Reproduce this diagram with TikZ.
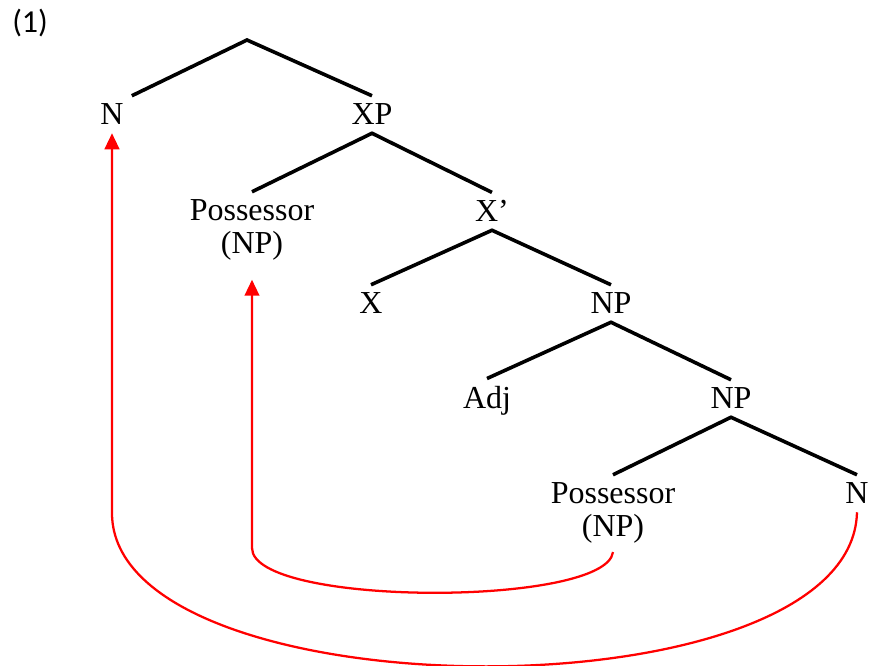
\documentclass[tikz,border=0pt]{standalone}
\usepackage{fontspec}
\setmainfont{Liberation Serif}
\newfontfamily\exfont{Carlito}
\usetikzlibrary{arrows.meta,positioning}

\begin{document}
\begin{tikzpicture}[x=0.75pt, y=-0.75pt,
  cat/.style={font=\fontsize{24}{24.75}\selectfont, align=center, inner sep=6pt, anchor=base},
  branch/.style={line width=2.7pt},
  move/.style={red, line width=1.7pt, -{Triangle[length=12pt,width=11pt]}}]
  \useasboundingbox (0,0) rectangle (869,666);
  \node[anchor=base west, inner sep=0pt, font=\exfont\fontsize{24}{26}\selectfont] (ex) at (12,33) {(1)};
  \coordinate (top) at (247,40);
  \node[cat] (n1) at (112,125) {N};
  \node[cat] (xp) at (372,125) {XP};
  \node[cat] (poss1) at (252,254) {Possessor\\(NP)};
  \node[cat] (xbar) at (492,222) {X’};
  \node[cat] (x) at (371,314) {X};
  \node[cat] (np1) at (611,314) {NP};
  \node[cat] (adj) at (487,409) {Adj};
  \node[cat] (np2) at (731,409) {NP};
  \node[cat] (poss2) at (613,537) {Possessor\\(NP)};
  \node[cat] (n2) at (857,504) {N};
  \draw[branch] (n1.north east) -- (top) -- (xp.north);
  \draw[branch] (poss1.north) -- (xp.south) -- (xbar.north);
  \draw[branch] (x.north) -- (xbar.south) -- (np1.north);
  \draw[branch] (adj.north) -- (np1.south) -- (np2.north);
  \draw[branch] (poss2.north) -- (np2.south) -- (n2.north);
  \coordinate (bendA) at (252,548);
  \coordinate (bendB) at (112,513);
  \draw[move, shorten >=8pt] (poss2.south) .. controls +(-7,55) and +(0,59) .. (bendA) -- (poss1.south);
  \draw[move] (n2.south) .. controls +(-5,208) and +(0,202) .. (bendB) -- (n1.south);
\end{tikzpicture}
\end{document}
